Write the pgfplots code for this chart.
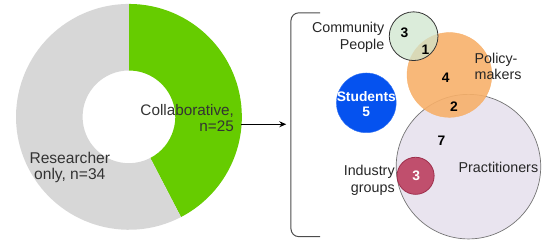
\documentclass[border=0pt]{standalone}
\usepackage{pgfplots}
\pgfplotsset{compat=1.18}
\usepackage{fontspec}
\setmainfont{Liberation Sans}
\usetikzlibrary{arrows.meta}
\definecolor{collab}{HTML}{66CC00}
\definecolor{resonly}{HTML}{D7D7D7}
\definecolor{commc}{HTML}{CFE5CD}
\definecolor{policyc}{HTML}{F7B06A}
\definecolor{studc}{HTML}{0552EF}
\definecolor{pracc}{HTML}{E9E4EF}
\definecolor{indc}{HTML}{C04F6D}
\definecolor{indb}{HTML}{9E2F4C}
\pgfplotsset{canvas/.style={x=1pt,y=1pt,xmin=0,xmax=550,ymin=0,ymax=252,hide axis,clip=false,
  every node/.style={inner sep=0pt}}}
\begin{document}
\begin{tikzpicture}
\pgfmathsetmacro\nCollab{25}
\pgfmathsetmacro\nRes{34}
\pgfmathsetmacro\angC{360*\nCollab/(\nCollab+\nRes)}
\pgfmathsetmacro\endC{90-\angC}
\begin{axis}[canvas]
\path (axis cs:0,0) rectangle (axis cs:550,252);
% donut
\fill[collab] (axis cs:123,133.5) ++(90:114.5) arc[start angle=90,end angle=\endC,radius=114.5]
   -- ++(\endC:-67.5) arc[start angle=\endC,end angle=90,radius=47] -- cycle;
\fill[resonly] (axis cs:123,133.5) ++(\endC:114.5) arc[start angle=\endC,end angle=-270,radius=114.5]
   -- ++(-270:-67.5) arc[start angle=-270,end angle=\endC,radius=47] -- cycle;
% arrow and bracket
\draw[line width=0.9pt,-{Stealth[length=7pt,width=6pt]}] (axis cs:237,126) -- (axis cs:282.5,126);
\draw[black!70,line width=1pt,rounded corners=8pt] (axis cs:317,239) -- (axis cs:287.3,239) -- (axis cs:287.3,12) -- (axis cs:317,12);
% venn circles
\addplot[only marks,mark=*,mark size=73.3pt,mark options={fill=pracc,draw=black!55,line width=0.7pt}] coordinates {(467.3,83)};
\addplot[only marks,mark=*,mark size=43pt,mark options={fill=policyc,draw=policyc,fill opacity=0.9,draw opacity=0.9}] coordinates {(448,176)};
\addplot[only marks,mark=*,mark size=24.7pt,mark options={fill=commc,draw=black!80,line width=0.8pt,fill opacity=0.75}] coordinates {(411.7,215.3)};
\addplot[only marks,mark=*,mark size=30.3pt,mark options={fill=studc,draw=studc!80!white}] coordinates {(363.7,147.7)};
\addplot[only marks,mark=*,mark size=18.8pt,mark options={fill=indc,draw=indb,line width=0.8pt}] coordinates {(413.7,73.7)};
\end{axis}
\begin{axis}[canvas]
\node[anchor=east,align=right,font=\fontsize{15.5}{16.3}\selectfont,text=black!80] at (axis cs:233,132) {Collaborative,\\n=25};
\node[align=center,font=\fontsize{15.8}{16.3}\selectfont,text=black!80] at (axis cs:63,82.2) {Researcher\\only, n=34};
\node[anchor=east,align=right,font=\fontsize{14.5}{16.7}\selectfont,text=black!85] at (axis cs:385.5,214.3) {Community\\People};
\node[anchor=west,align=left,font=\fontsize{14.5}{16}\selectfont,text=black!85] at (axis cs:470,184.7) {Policy-\\makers};
\node[anchor=east,align=right,font=\fontsize{14.5}{17.3}\selectfont,text=black!85] at (axis cs:396,68.7) {Industry\\groups};
\node[font=\fontsize{14.5}{17}\selectfont,text=black!85] at (axis cs:497.7,82) {Practitioners};
\node[font=\fontsize{14}{16}\selectfont\bfseries] at (axis cs:402.3,218.7) {3};
\node[font=\fontsize{14}{16}\selectfont\bfseries] at (axis cs:423.7,202) {1};
\node[font=\fontsize{14}{16}\selectfont\bfseries] at (axis cs:444.3,173.3) {4};
\node[font=\fontsize{14}{16}\selectfont\bfseries] at (axis cs:452.7,144.3) {2};
\node[font=\fontsize{14}{16}\selectfont\bfseries] at (axis cs:440,109.7) {7};
\node[font=\fontsize{14}{16}\selectfont\bfseries,text=white] at (axis cs:414.3,73.7) {3};
\node[font=\fontsize{14}{16}\selectfont\bfseries,text=white] at (axis cs:363.7,154.3) {Students};
\node[font=\fontsize{14}{16}\selectfont\bfseries,text=white] at (axis cs:363.7,138.7) {5};
\end{axis}
\end{tikzpicture}
\end{document}
